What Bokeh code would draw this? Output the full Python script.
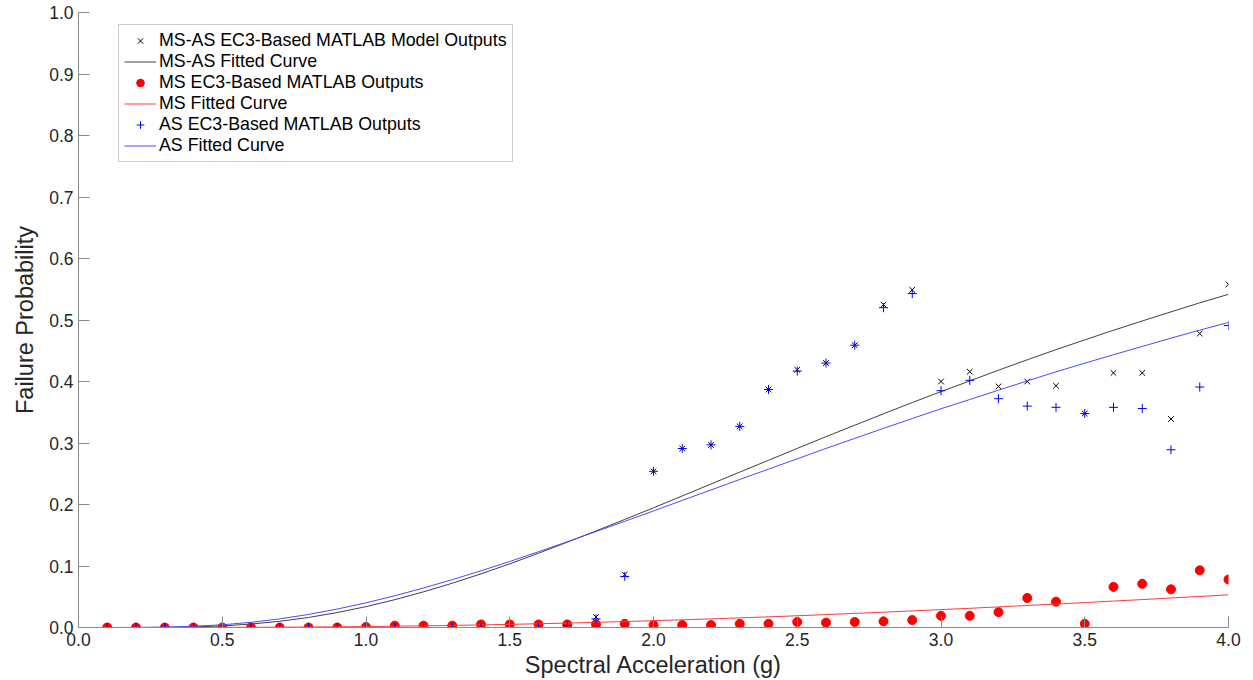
from bokeh.plotting import figure
from bokeh.models import Range1d, Legend, LegendItem, FixedTicker
from bokeh.embed import file_html
from bokeh.resources import INLINE

# Spectral acceleration sample points (g)
sa = [0.1, 0.2, 0.3, 0.4, 0.5, 0.6, 0.7, 0.8, 0.9, 1.0,
      1.1, 1.2, 1.3, 1.4, 1.5, 1.6, 1.7, 1.8, 1.9, 2.0,
      2.1, 2.2, 2.3, 2.4, 2.5, 2.6, 2.7, 2.8, 2.9, 3.0,
      3.1, 3.2, 3.3, 3.4, 3.5, 3.6, 3.7, 3.8, 3.9, 4.0]

# MS-AS EC3-based MATLAB model outputs
msas_pts = [0, 0, 0, 0, 0, 0, 0, 0, 0, 0,
            0, 0, 0, 0, 0, 0, 0.004, 0.017, 0.086, 0.254,
            0.291, 0.297, 0.327, 0.387, 0.419, 0.430, 0.459, 0.525, 0.549, 0.400,
            0.416, 0.392, 0.400, 0.393, 0.348, 0.414, 0.414, 0.339, 0.478, 0.558]

# MS EC3-based MATLAB outputs
ms_pts = [0, 0, 0, 0, 0, 0, 0, 0, 0, 0.001,
          0.003, 0.003, 0.003, 0.005, 0.005, 0.005, 0.005, 0.005, 0.006, 0.004,
          0.004, 0.004, 0.006, 0.006, 0.009, 0.008, 0.009, 0.010, 0.012, 0.019,
          0.019, 0.025, 0.048, 0.042, 0.006, 0.066, 0.071, 0.062, 0.093, 0.078]

# AS EC3-based MATLAB outputs
as_pts = [0, 0, 0, 0, 0, 0, 0, 0, 0, 0,
          0, 0, 0, 0, 0, 0, 0.003, 0.014, 0.083, 0.254,
          0.291, 0.297, 0.327, 0.387, 0.417, 0.430, 0.459, 0.520, 0.543, 0.385,
          0.402, 0.372, 0.360, 0.358, 0.348, 0.358, 0.356, 0.289, 0.391, 0.491]

# Fitted curves (at the same sample points)
msas_fit = [0.0, 0.00002, 0.0002, 0.001, 0.0026, 0.0056, 0.0101, 0.0163, 0.0243, 0.0339,
            0.0452, 0.058, 0.072, 0.0872, 0.1035, 0.1208, 0.1387, 0.157, 0.1757, 0.1946,
            0.2139, 0.2333, 0.2527, 0.2719, 0.2912, 0.3103, 0.3289, 0.3475, 0.3658, 0.3836,
            0.4009, 0.4184, 0.4353, 0.4518, 0.4677, 0.4833, 0.4984, 0.5132, 0.5279, 0.5418]

ms_fit = [0.0, 0.0, 0.0, 0.00006, 0.00014, 0.0003, 0.0005, 0.0007, 0.0011, 0.0015,
          0.0021, 0.0027, 0.0034, 0.0042, 0.0051, 0.0061, 0.0072, 0.0084, 0.0097, 0.0111,
          0.0125, 0.014, 0.0157, 0.0173, 0.0191, 0.021, 0.0229, 0.0249, 0.027, 0.0291,
          0.0312, 0.0335, 0.0358, 0.0381, 0.0405, 0.043, 0.0454, 0.048, 0.0505, 0.0531]

as_fit = [0.0, 0.0001, 0.0006, 0.002, 0.0044, 0.0084, 0.014, 0.0212, 0.030, 0.0401,
          0.0516, 0.0642, 0.0778, 0.0922, 0.1073, 0.1232, 0.1394, 0.156, 0.1726, 0.1895,
          0.2067, 0.2236, 0.2407, 0.2575, 0.2743, 0.2912, 0.3075, 0.3238, 0.3398, 0.3557,
          0.3707, 0.3859, 0.4009, 0.4157, 0.4298, 0.4435, 0.457, 0.4705, 0.4836, 0.496]

x_ticks = [0.0, 0.5, 1.0, 1.5, 2.0, 2.5, 3.0, 3.5, 4.0]
y_ticks = [0.0, 0.1, 0.2, 0.3, 0.4, 0.5, 0.6, 0.7, 0.8, 0.9, 1.0]

FONT = "Liberation Sans"

p = figure(width=1253, height=680, output_backend="svg", toolbar_location=None,
           x_range=Range1d(0, 4), y_range=Range1d(0, 1),
           min_border_left=78, min_border_right=25, min_border_top=12, min_border_bottom=53)
p.frame_width = 1150
p.frame_height = 615
p.outline_line_color = None
p.grid.visible = False
p.background_fill_color = "white"
p.border_fill_color = "white"

r1 = p.scatter(sa, msas_pts, marker="x", size=8, line_color="black", line_width=1)
r2 = p.line(sa, msas_fit, line_color="#404040", line_width=1)
r3 = p.scatter(sa, ms_pts, marker="circle", size=9, fill_color="red", line_color="red")
r4 = p.line(sa, ms_fit, line_color="#ff3a3a", line_width=1)
r5 = p.scatter(sa, as_pts, marker="cross", size=9, line_color="blue", line_width=1)
r6 = p.line(sa, as_fit, line_color="#4a4aff", line_width=1)

for ax in (p.xaxis[0], p.yaxis[0]):
    ax.axis_line_color = "#8a8a8a"
    ax.axis_line_width = 1
    ax.major_tick_line_color = "#8a8a8a"
    ax.major_tick_in = 11
    ax.major_tick_out = 0
    ax.minor_tick_line_color = None
    ax.major_label_text_font = FONT
    ax.major_label_text_font_size = "17.5px"
    ax.major_label_text_color = "#262626"
    ax.axis_label_text_font = FONT
    ax.axis_label_text_font_size = "23.5px"
    ax.axis_label_text_font_style = "normal"
    ax.axis_label_text_color = "#262626"

p.xaxis[0].ticker = FixedTicker(ticks=x_ticks)
p.yaxis[0].ticker = FixedTicker(ticks=y_ticks)
p.xaxis[0].major_label_overrides = {t: f"{t:.1f}" for t in x_ticks}
p.yaxis[0].major_label_overrides = {t: f"{t:.1f}" for t in y_ticks}
p.xaxis[0].axis_label = "Spectral Acceleration (g)"
p.yaxis[0].axis_label = "Failure Probability"
p.xaxis[0].major_label_standoff = 5
p.yaxis[0].major_label_standoff = 5
p.xaxis[0].axis_label_standoff = 3
p.yaxis[0].axis_label_standoff = 8

legend = Legend(items=[
    LegendItem(label="MS-AS EC3-Based MATLAB Model Outputs", renderers=[r1]),
    LegendItem(label="MS-AS Fitted Curve", renderers=[r2]),
    LegendItem(label="MS EC3-Based MATLAB Outputs", renderers=[r3]),
    LegendItem(label="MS Fitted Curve", renderers=[r4]),
    LegendItem(label="AS EC3-Based MATLAB Outputs", renderers=[r5]),
    LegendItem(label="AS Fitted Curve", renderers=[r6]),
], location=(40, 465))
legend.label_text_font = FONT
legend.label_text_font_size = "17.8px"
legend.label_text_line_height = 1.05
legend.label_text_color = "black"
legend.label_height = 19
legend.glyph_height = 19
legend.glyph_width = 32
legend.label_standoff = 3
legend.spacing = 0
legend.padding = 5
legend.margin = 0
legend.border_line_color = "#9a9a9a"
legend.border_line_width = 1
legend.background_fill_color = "white"
legend.background_fill_alpha = 1
p.add_layout(legend, "center")

open("out.html", "w").write(file_html(p, INLINE))
